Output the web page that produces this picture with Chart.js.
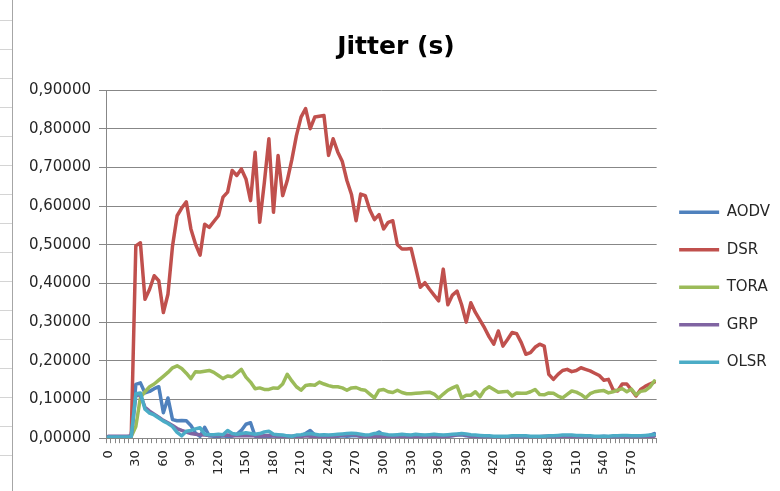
<!DOCTYPE html>
<html>
<head>
<meta charset="utf-8">
<script src="https://cdn.jsdelivr.net/npm/chart.js@4/dist/chart.umd.min.js"></script>
<style>
  html, body { margin: 0; padding: 0; background: #fff; }
  #wrap { position: relative; width: 780px; height: 491px; }
  #sheet {
    position: absolute; left: 0; top: 0; width: 12px; height: 491px;
    border-right: 1px solid #a6a6a6;
    background-image: repeating-linear-gradient(to bottom, transparent 0 28px, #d4d4d4 28px 29px);
    background-position: 0 -8px;
  }
  canvas { position: absolute; left: 0; top: 0; }
</style>
</head>
<body>
<div id="wrap">
  <div id="sheet"></div>
  <canvas id="jitter" width="780" height="491"></canvas>
</div>
<script>
// simulation time (s), one sample every 5 s
const categories = [
  0,5,10,15,20,25,30,35,40,45,50,55,60,65,70,75,80,85,90,95,
  100,105,110,115,120,125,130,135,140,145,150,155,160,165,170,175,180,185,190,195,
  200,205,210,215,220,225,230,235,240,245,250,255,260,265,270,275,280,285,290,295,
  300,305,310,315,320,325,330,335,340,345,350,355,360,365,370,375,380,385,390,395,
  400,405,410,415,420,425,430,435,440,445,450,455,460,465,470,475,480,485,490,495,
  500,505,510,515,520,525,530,535,540,545,550,555,560,565,570,575,580,585,590,595
];
const labelEvery = 6;

const aodv = [
  0.004,0.004,0.004,0.004,0.004, 0.005,0.139,0.143,0.117,0.121,
  0.128,0.133,0.066,0.104,0.048, 0.045,0.046,0.045,0.033,0.013,
  0.005,0.028,0.006,0.005,0.004, 0.006,0.004,0.005,0.010,0.020,
  0.036,0.040,0.005,0.004,0.005, 0.004,0.006,0.004,0.004,0.005,
  0.004,0.005,0.006,0.012,0.020, 0.008,0.005,0.004,0.005,0.004,
  0.005,0.006,0.005,0.006,0.007, 0.005,0.004,0.005,0.009,0.016,
  0.008,0.005,0.004,0.005,0.006, 0.005,0.004,0.005,0.004,0.005,
  0.006,0.007,0.005,0.004,0.005, 0.006,0.008,0.009,0.006,0.005,
  0.004,0.004,0.005,0.004,0.004, 0.003,0.004,0.004,0.003,0.004,
  0.004,0.003,0.004,0.004,0.003, 0.004,0.004,0.003,0.004,0.004,
  0.005,0.004,0.004,0.003,0.004, 0.004,0.003,0.004,0.005,0.004,
  0.003,0.004,0.004,0.005,0.004, 0.004,0.005,0.005,0.007,0.012
];
const dsr = [
  0.003,0.003,0.003,0.003,0.003, 0.005,0.497,0.505,0.359,0.385,
  0.420,0.407,0.325,0.372,0.497, 0.575,0.595,0.611,0.541,0.502,
  0.473,0.553,0.545,0.560,0.575, 0.623,0.636,0.692,0.679,0.696,
  0.670,0.614,0.739,0.558,0.660, 0.774,0.584,0.731,0.627,0.666,
  0.720,0.782,0.830,0.852,0.800, 0.830,0.832,0.834,0.731,0.774,
  0.740,0.715,0.666,0.630,0.562, 0.631,0.627,0.590,0.565,0.578,
  0.541,0.558,0.562,0.500,0.489, 0.489,0.490,0.440,0.390,0.402,
  0.385,0.370,0.355,0.437,0.345, 0.370,0.380,0.345,0.300,0.350,
  0.325,0.305,0.285,0.262,0.243, 0.277,0.238,0.255,0.273,0.270,
  0.247,0.217,0.221,0.235,0.243, 0.238,0.165,0.152,0.165,0.175,
  0.178,0.172,0.175,0.182,0.178, 0.174,0.168,0.162,0.150,0.152,
  0.125,0.122,0.140,0.140,0.125, 0.109,0.126,0.134,0.140,0.145
];
const tora = [
  0.003,0.003,0.003,0.003,0.003, 0.004,0.030,0.105,0.120,0.133,
  0.140,0.150,0.160,0.170,0.182, 0.187,0.180,0.168,0.154,0.172,
  0.171,0.173,0.175,0.170,0.162, 0.154,0.161,0.159,0.168,0.178,
  0.158,0.145,0.128,0.130,0.126, 0.126,0.130,0.129,0.140,0.165,
  0.148,0.133,0.124,0.136,0.138, 0.137,0.145,0.140,0.136,0.133,
  0.133,0.130,0.124,0.130,0.131, 0.126,0.124,0.114,0.104,0.124,
  0.126,0.120,0.118,0.124,0.118, 0.115,0.115,0.116,0.117,0.118,
  0.119,0.114,0.103,0.114,0.124, 0.130,0.135,0.104,0.111,0.111,
  0.120,0.107,0.125,0.133,0.126, 0.119,0.120,0.121,0.109,0.117,
  0.116,0.116,0.120,0.126,0.113, 0.112,0.117,0.116,0.109,0.104,
  0.113,0.122,0.119,0.113,0.104, 0.115,0.120,0.122,0.123,0.117,
  0.120,0.124,0.128,0.120,0.127, 0.112,0.121,0.123,0.132,0.148
];
const grp = [
  0.005,0.005,0.005,0.005,0.005, 0.005,0.110,0.112,0.080,0.070,
  0.062,0.054,0.046,0.040,0.033, 0.025,0.020,0.016,0.012,0.010,
  0.009,0.008,0.007,0.007,0.006, 0.007,0.008,0.006,0.006,0.007,
  0.006,0.007,0.006,0.005,0.006, 0.007,0.006,0.005,0.005,0.004,
  0.005,0.005,0.004,0.006,0.005, 0.005,0.004,0.005,0.004,0.005,
  0.006,0.008,0.009,0.010,0.008, 0.005,0.004,0.005,0.004,0.005,
  0.004,0.005,0.004,0.004,0.005, 0.004,0.003,0.004,0.004,0.003,
  0.004,0.004,0.003,0.004,0.005, 0.007,0.009,0.010,0.008,0.005,
  0.004,0.003,0.003,0.004,0.003, 0.003,0.003,0.004,0.003,0.003,
  0.004,0.003,0.003,0.004,0.004, 0.005,0.005,0.004,0.004,0.005,
  0.005,0.004,0.004,0.003,0.003, 0.004,0.003,0.003,0.004,0.003,
  0.003,0.004,0.003,0.003,0.004, 0.003,0.003,0.004,0.004,0.005
];
const olsr = [
  0.003,0.003,0.003,0.003,0.003, 0.004,0.115,0.117,0.075,0.065,
  0.060,0.052,0.044,0.038,0.030, 0.015,0.006,0.018,0.020,0.024,
  0.027,0.010,0.009,0.009,0.010, 0.009,0.020,0.012,0.010,0.012,
  0.014,0.012,0.010,0.012,0.016, 0.018,0.010,0.009,0.008,0.006,
  0.005,0.008,0.009,0.011,0.012, 0.010,0.008,0.009,0.008,0.009,
  0.010,0.011,0.012,0.013,0.012, 0.010,0.008,0.009,0.012,0.013,
  0.011,0.009,0.008,0.009,0.010, 0.009,0.008,0.010,0.009,0.008,
  0.009,0.010,0.009,0.008,0.009, 0.010,0.011,0.012,0.011,0.009,
  0.008,0.007,0.006,0.006,0.005, 0.005,0.005,0.005,0.006,0.006,
  0.006,0.006,0.005,0.005,0.005, 0.005,0.006,0.006,0.007,0.008,
  0.008,0.008,0.007,0.007,0.006, 0.006,0.005,0.005,0.005,0.005,
  0.006,0.006,0.007,0.007,0.006, 0.006,0.006,0.007,0.008,0.009
];

const seriesNames = ['AODV', 'DSR', 'TORA', 'GRP', 'OLSR'];
const seriesData = [aodv, dsr, tora, grp, olsr];
const seriesColors = ['#4F81BD', '#C0504D', '#9BBB59', '#8064A2', '#4BACC6'];

const axisGrey = '#878787';
const textColor = '#262626';
const sans = '"DejaVu Sans", sans-serif';

const datasets = seriesNames.map((name, i) => ({
  label: name,
  data: seriesData[i],
  borderColor: seriesColors[i],
  backgroundColor: seriesColors[i],
  borderWidth: 3.5,
  pointRadius: 0,
  pointHoverRadius: 0,
  tension: 0,
  borderJoinStyle: 'round',
  borderCapStyle: 'round',
  pointStyle: 'line',
  order: seriesNames.length - i   // later series on top
}));

new Chart(document.getElementById('jitter'), {
  type: 'line',
  data: { labels: categories, datasets },
  options: {
    responsive: false,
    animation: false,
    layout: { padding: { left: 12, right: 0, top: 0, bottom: 9 } },
    plugins: {
      title: {
        display: true,
        text: 'Jitter (s)',
        color: '#000',
        font: { family: sans, size: 25, weight: 'bold' },
        padding: { top: 32, bottom: 28 }
      },
      legend: {
        position: 'right',
        maxWidth: 126,
        // empty title just pushes the entries down a bit
        title: { display: true, text: ' ', font: { size: 12 }, padding: { top: 0, bottom: 78 } },
        labels: {
          usePointStyle: true,
          pointStyleWidth: 40,
          boxHeight: 15,
          padding: 22.5,
          color: textColor,
          font: { family: sans, size: 15 },
          sort: (a, b) => a.datasetIndex - b.datasetIndex
        }
      },
      tooltip: { enabled: false }
    },
    scales: {
      x: {
        offset: true,
        grid: {
          display: true,
          offset: true,
          drawOnChartArea: false,
          drawTicks: true,
          tickLength: 5,
          color: axisGrey
        },
        border: { color: axisGrey, width: 1 },
        ticks: {
          autoSkip: false,
          minRotation: 90,
          maxRotation: 90,
          padding: 7,
          color: textColor,
          font: { family: sans, size: 13 },
          callback: (v, i) => (i % labelEvery === 0 ? String(categories[i]) : '')
        }
      },
      y: {
        min: 0,
        max: 0.9,
        afterFit: (scale) => { scale.width = 94; },
        grid: {
          color: axisGrey,
          lineWidth: 1,
          drawTicks: true,
          tickLength: 7
        },
        border: { color: axisGrey, width: 1 },
        ticks: {
          stepSize: 0.1,
          padding: 8,
          color: textColor,
          font: { family: sans, size: 15 },
          callback: (v) => v.toFixed(5).replace('.', ',')
        }
      }
    }
  }
});
</script>
</body>
</html>
